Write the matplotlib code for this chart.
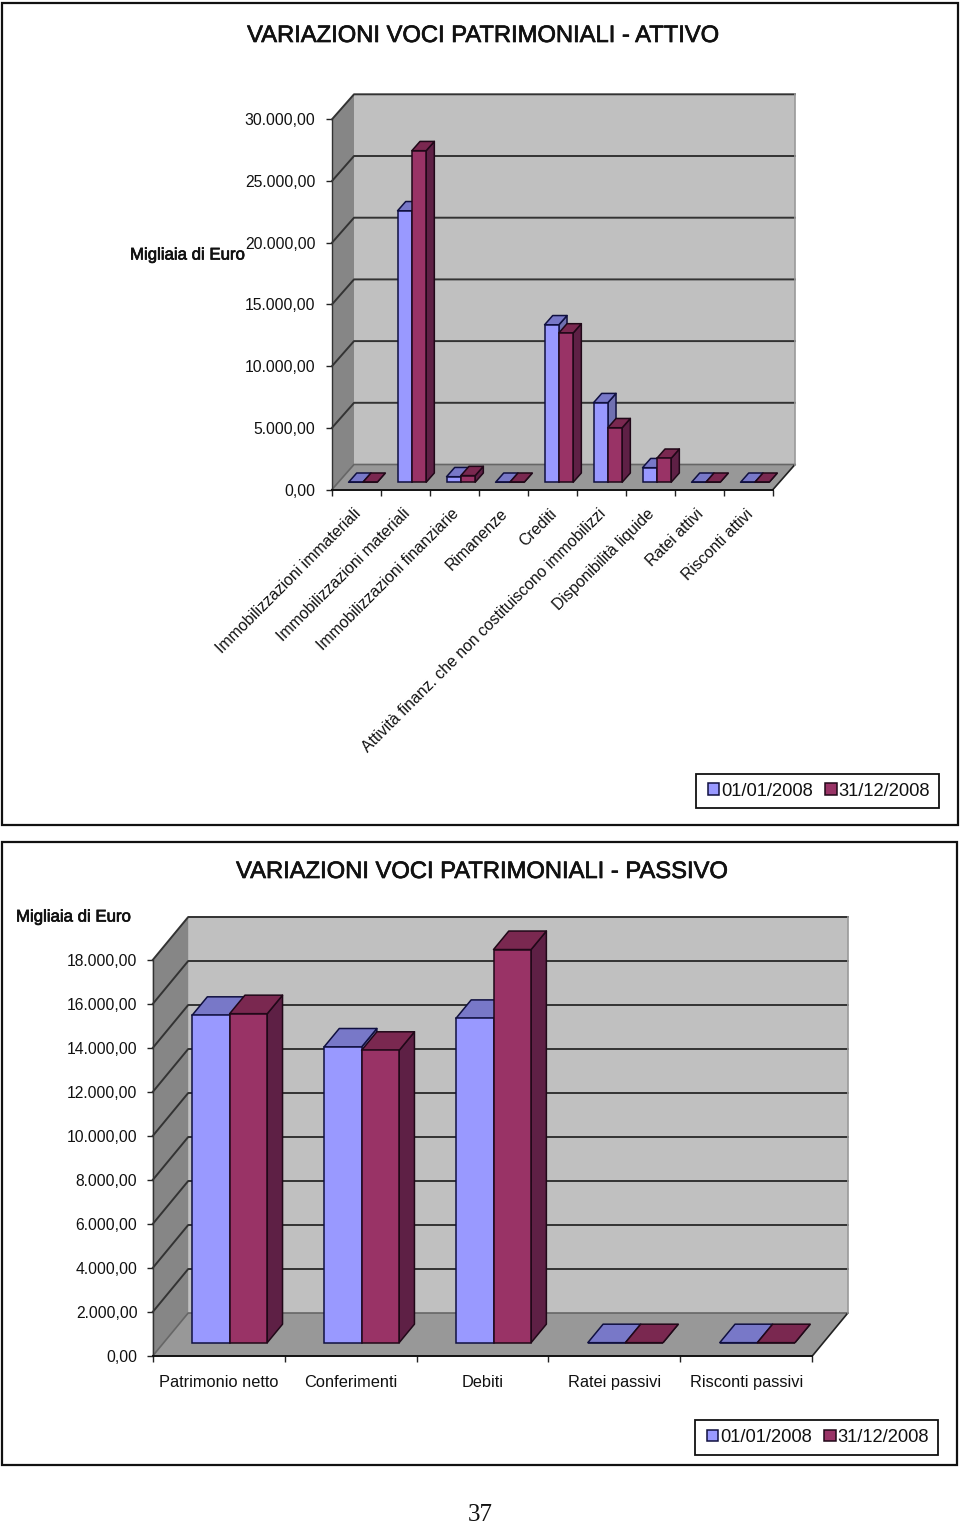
import matplotlib
matplotlib.use("Agg")
import matplotlib.pyplot as plt
import matplotlib.patheffects as pe
from matplotlib.patches import Polygon, Rectangle, Patch
from matplotlib.legend_handler import HandlerPatch
from matplotlib.transforms import ScaledTranslation

plt.rcParams['font.family'] = ['Liberation Sans', 'DejaVu Sans']

W, H = 960, 1523

SERIES = ['01/01/2008', '31/12/2008']

ATTIVO_TITLE = 'VARIAZIONI VOCI PATRIMONIALI - ATTIVO'
ATTIVO_CATS = ['Immobilizzazioni immateriali', 'Immobilizzazioni materiali',
               'Immobilizzazioni finanziarie', 'Rimanenze', 'Crediti',
               'Attività finanz. che non costituiscono immobilizzi',
               'Disponibilità liquide', 'Ratei attivi', 'Risconti attivi']
ATTIVO_START = [0, 22000, 450, 0, 12760, 6450, 1180, 0, 0]
ATTIVO_END = [0, 26870, 540, 0, 12100, 4420, 1945, 0, 0]
ATTIVO_TICKS = [0, 5000, 10000, 15000, 20000, 25000, 30000]

PASSIVO_TITLE = 'VARIAZIONI VOCI PATRIMONIALI - PASSIVO'
PASSIVO_CATS = ['Patrimonio netto', 'Conferimenti', 'Debiti', 'Ratei passivi', 'Risconti passivi']
PASSIVO_START = [14880, 13440, 14740, 0, 0]
PASSIVO_END = [14955, 13290, 17870, 0, 0]
PASSIVO_TICKS = [0, 2000, 4000, 6000, 8000, 10000, 12000, 14000, 16000, 18000]

BLUE = dict(front='#9999FF', top='#7878C8', side='#7070B0', edge='#101040')
RED = dict(front='#993366', top='#7A2850', side='#5E2045', edge='#200818')

fig = plt.figure(figsize=(W / 100, H / 100), dpi=100, facecolor='white')


def fx(x): return x / W
def fy(y): return 1 - y / H


def frame(x0, y0, x1, y1):
    fig.add_artist(Rectangle((fx(x0), fy(y1)), (x1 - x0) / W, (y1 - y0) / H,
                             transform=fig.transFigure, fill=False, ec='#111111', lw=1.6))


def label(x, y, s, size, ha='left', bold=False, **kw):
    t = fig.text(fx(x), fy(y), s, fontsize=size, ha=ha, va='center', color='#111111', **kw)
    if bold:
        t.set_path_effects([pe.withStroke(linewidth=0.5, foreground='#111111')])
    return t


def fmt(v):
    return f'{v:,.2f}'.replace(',', 'X').replace('.', ',').replace('X', '.')


def chart(rect, ymax, ticks, cats, start, end, depth, d0, d1, bar_w, rot, ypad):
    x0, ytop, x1, y0 = rect
    ax = fig.add_axes([fx(x0), fy(y0), (x1 - x0) / W, (y0 - ytop) / H])
    n = len(cats)
    ax.set_xlim(0, n)
    ax.set_ylim(0, ymax)
    ax.patch.set_visible(False)
    dx = depth[0] / ((x1 - x0) / n)
    dy = depth[1] / ((y0 - ytop) / ymax)

    def P(x, y, d):
        return (x + d * dx, y + d * dy)

    def poly(pts, fc, ec='none', lw=0.0, z=1):
        ax.add_patch(Polygon(pts, closed=True, fc=fc, ec=ec, lw=lw, zorder=z, clip_on=False, joinstyle='round'))

    poly([P(0, 0, 1), P(n, 0, 1), P(n, ymax, 1), P(0, ymax, 1)], '#C0C0C0', z=1)
    poly([P(0, 0, 0), P(0, 0, 1), P(0, ymax, 1), P(0, ymax, 0)], '#868686', z=1)
    poly([P(0, 0, 0), P(0, 0, 1), P(n, 0, 1), P(n, 0, 0)], '#989898', z=1)
    for t in ticks:
        if t == 0:
            continue
        a, b, c = P(0, t, 0), P(0, t, 1), P(n, t, 1)
        ax.plot([a[0], b[0], c[0]], [a[1], b[1], c[1]], color='#333333', lw=1.4, zorder=2, clip_on=False)
    a, b, c = P(0, 0, 0), P(0, 0, 1), P(n, 0, 1)
    ax.plot([a[0], b[0], c[0]], [a[1], b[1], c[1]], color='#666666', lw=1.2, zorder=2, clip_on=False)
    a, b = P(n, 0, 1), P(n, 0, 0)
    ax.plot([a[0], b[0]], [a[1], b[1]], color='#222222', lw=1.2, zorder=2, clip_on=False)
    a, b = P(n, 0, 1), P(n, ymax, 1)
    ax.plot([a[0], b[0]], [a[1], b[1]], color='#9a9a9a', lw=1.2, zorder=2, clip_on=False)

    z = 3
    for i in range(n):
        xc = i + 0.5
        for j, (vals, col) in enumerate(((start, BLUE), (end, RED))):
            v = vals[i]
            xl = xc - bar_w + j * bar_w
            xr = xl + bar_w
            ekw = dict(ec=col['edge'], lw=1.1)
            poly([P(xr, 0, d0), P(xr, 0, d1), P(xr, v, d1), P(xr, v, d0)], col['side'], z=z, **ekw)
            poly([P(xl, v, d0), P(xr, v, d0), P(xr, v, d1), P(xl, v, d1)], col['top'], z=z, **ekw)
            bl = P(xl, 0, d0)
            ax.bar(bl[0], v, width=bar_w, bottom=bl[1], align='edge', color=col['front'],
                   edgecolor=col['edge'], linewidth=1.1, zorder=z + 0.5, clip_on=False)
            z += 1

    for s in ('top', 'right'):
        ax.spines[s].set_visible(False)
    ax.spines['left'].set_color('#333333')
    ax.spines['left'].set_linewidth(1.0)
    ax.spines['bottom'].set_color('#111111')
    ax.spines['bottom'].set_linewidth(1.4)
    for s in ax.spines.values():
        s.set_zorder(50)
    ax.set_yticks(ticks)
    ax.set_yticklabels([fmt(t) for t in ticks], fontsize=11.3, color='#111111')
    ax.tick_params(axis='y', length=4, width=1.0, pad=ypad, color='#222222')
    ax.set_xticks(range(n + 1))
    ax.set_xticklabels([])
    ax.tick_params(axis='x', which='major', length=4, width=1.0, color='#222222')
    ax.set_xticks([i + 0.5 for i in range(n)], minor=True)
    ax.tick_params(axis='x', which='minor', length=0)
    if rot:
        ax.set_xticklabels(cats, minor=True, rotation=45, ha='right', va='top',
                           rotation_mode='anchor', fontsize=11.4, color='#111111')
        ax.tick_params(axis='x', which='minor', pad=12)
        shift = ScaledTranslation(-3.5 / 100, 0, fig.dpi_scale_trans)
        for lab in ax.get_xticklabels(minor=True):
            lab.set_transform(lab.get_transform() + shift)
    else:
        ax.set_xticklabels(cats, minor=True, fontsize=11.8, color='#111111')
        ax.tick_params(axis='x', which='minor', pad=14)
    return ax


def square_handle(legend, orig_handle, xdescent, ydescent, width, height, fontsize):
    side = height
    return Rectangle((width - side - xdescent, -ydescent), side, side)


def legend(cx, cy):
    handles = [Patch(fc=BLUE['front'], ec=BLUE['edge'], lw=1.1), Patch(fc=RED['front'], ec=RED['edge'], lw=1.1)]
    leg = fig.legend(handles, SERIES, ncol=2, loc='center', bbox_to_anchor=(fx(cx), fy(cy)),
                     bbox_transform=fig.transFigure, fontsize=13.2, frameon=True, fancybox=False,
                     edgecolor='#111111', framealpha=1, handlelength=0.8, handleheight=0.6,
                     handletextpad=0.1, columnspacing=0.5, borderpad=0.48, borderaxespad=0, labelcolor='#111111',
                     handler_map={Patch: HandlerPatch(patch_func=square_handle)})
    leg.get_frame().set_linewidth(1.3)


frame(2, 3, 958, 825)
frame(2, 842, 957, 1465)

label(483.5, 36, ATTIVO_TITLE, 17.1, ha='center', bold=True)
label(482.5, 872, PASSIVO_TITLE, 17.1, ha='center', bold=True)
label(130, 255, 'Migliaia di Euro', 12.1, bold=True)
label(16, 917, 'Migliaia di Euro', 12.1, bold=True)
fig.text(fx(480), fy(1515), '37', fontsize=18, family='Liberation Serif', ha='center', va='center', color='#111111')

chart((332, 119.3, 773, 489.5), 30000, ATTIVO_TICKS, ATTIVO_CATS, ATTIVO_START, ATTIVO_END,
      (22, 25), 0.29, 0.66, 0.292, True, 8)
chart((152.7, 960, 812.3, 1356), 18000, PASSIVO_TICKS, PASSIVO_CATS, PASSIVO_START, PASSIVO_END,
      (35.5, 43), 0.31, 0.74, 0.285, False, 7)

legend(817.5, 791)
legend(816.5, 1437.5)

fig.savefig('out.png', dpi=100, facecolor='white')
